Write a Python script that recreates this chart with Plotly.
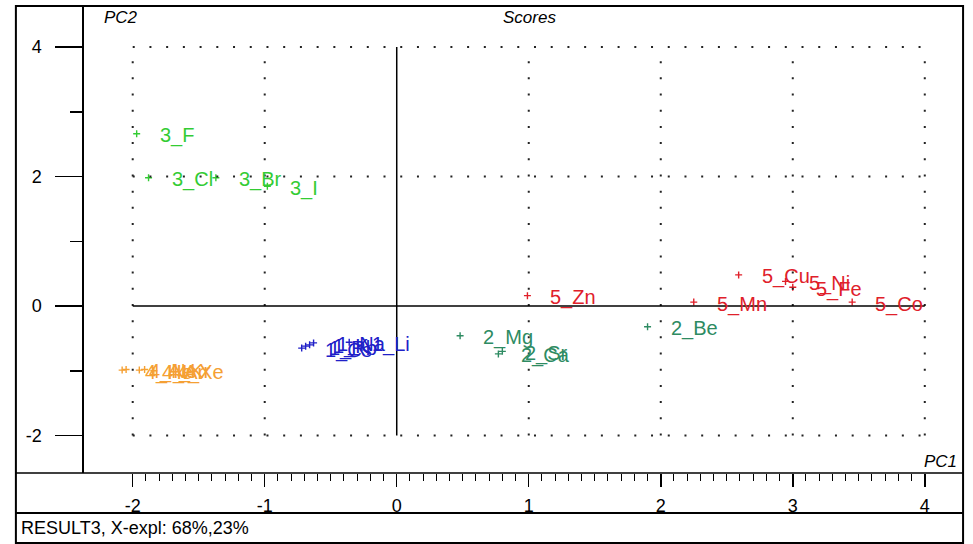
import plotly.graph_objects as go

W, H = 973, 544

# ---------------- data ----------------
alkali_labels = ["1_Cs", "1_Rb", "1_K", "1_Na", "1_Li"]
alkali_pc1 = [-0.72, -0.69, -0.66, -0.63, -0.36]
alkali_pc2 = [-0.65, -0.62, -0.60, -0.57, -0.56]

earth_labels = ["2_Mg", "2_Ca", "2_Sr", "2_Be"]
earth_pc1 = [0.48, 0.77, 0.80, 1.90]
earth_pc2 = [-0.46, -0.74, -0.70, -0.32]

halogen_labels = ["3_F", "3_Cl", "3_Br", "3_I"]
halogen_pc1 = [-1.97, -1.88, -1.37, -0.98]
halogen_pc2 = [2.66, 1.98, 1.98, 1.85]

noble_labels = ["4_He", "4_Ne", "4_Ar", "4_Kr", "4_Xe"]
noble_pc1 = [-2.08, -2.05, -1.95, -1.91, -1.84]
noble_pc2 = [-0.99, -0.98, -0.99, -0.98, -1.00]

trans_labels = ["5_Zn", "5_Mn", "5_Cu", "5_Ni", "5_Fe", "5_Co"]
trans_pc1 = [0.99, 2.25, 2.59, 2.945, 3.00, 3.45]
trans_pc2 = [0.16, 0.06, 0.48, 0.38, 0.29, 0.06]

x_ticks = [-2, -1, 0, 1, 2, 3, 4]
x_tick_labels = ["-2", "-1", "0", "1", "2", "3", "4"]
y_ticks = [-2, 0, 2, 4]
y_tick_labels = ["-2", "0", "2", "4"]

x_grid = [-2, -1, 1, 2, 3, 4]
y_grid = [-2, 2, 4]
x_lim = [-2, 4]
y_lim = [-2, 4]

title_text = "Scores"
xlab, ylab = "PC1", "PC2"
status_text = "RESULT3, X-expl: 68%,23%"

# ---------------- layout geometry (pixels) ----------------
X0PX, XS = 394.0, 133.8     # pixel of PC1=0, pixels per unit
Y0PX, YS = 306.0, 64.75     # pixel of PC2=0, pixels per unit
LEFT, RIGHT, TOP, BOTTOM = 77, 968, 6, 473
PANEL_BOT = 513

def px(v):
    return v / W

def py(v):
    return 1 - v / H

FONT = "Liberation Sans, Arial, sans-serif"

groups = [
    (alkali_labels, alkali_pc1, alkali_pc2, "#2020c8"),
    (earth_labels, earth_pc1, earth_pc2, "#2e8b62"),
    (halogen_labels, halogen_pc1, halogen_pc2, "#33cc33"),
    (noble_labels, noble_pc1, noble_pc2, "#f5a033"),
    (trans_labels, trans_pc1, trans_pc2, "#e0202a"),
]

fig = go.Figure()
annotations = []
for labels, xs, ys, col in groups:
    fig.add_trace(go.Scatter(
        x=xs, y=ys, mode="markers", hoverinfo="skip",
        marker=dict(symbol="cross-thin", size=5, color=col, line=dict(color=col, width=1.4)),
        showlegend=False, cliponaxis=False,
    ))
    for lab, xv, yv in zip(labels, xs, ys):
        annotations.append(dict(
            x=xv, y=yv, xref="x", yref="y", text=lab, showarrow=False,
            xanchor="left", yanchor="middle", xshift=21, yshift=-2,
            font=dict(family=FONT, size=20, color=col),
        ))

# empty trace to materialise the tick axis
fig.add_trace(go.Scatter(x=[], y=[], xaxis="x2", yaxis="y", showlegend=False))

shapes = []
# dotted grid
for gx in x_grid:
    shapes.append(dict(type="line", xref="x", yref="y", x0=gx, x1=gx,
                       y0=y_lim[0], y1=y_lim[1],
                       line=dict(color="#222", width=2, dash="2px,14.19px")))
for gy in y_grid:
    shapes.append(dict(type="line", xref="x", yref="y", x0=x_lim[0], x1=x_lim[1],
                       y0=gy, y1=gy,
                       line=dict(color="#222", width=2, dash="2px,14.72px")))
# solid zero lines
shapes.append(dict(type="line", xref="x", yref="y", x0=0, x1=0, y0=y_lim[0], y1=y_lim[1],
                   line=dict(color="black", width=1.5)))
shapes.append(dict(type="line", xref="x", yref="y", x0=x_lim[0], x1=x_lim[1], y0=0, y1=0,
                   line=dict(color="black", width=1.5)))
# frames
shapes.append(dict(type="rect", xref="paper", yref="paper", x0=px(8), x1=px(968),
                   y0=py(543), y1=py(TOP), line=dict(color="black", width=2)))
shapes.append(dict(type="line", xref="paper", yref="paper", x0=px(8), x1=px(968),
                   y0=py(BOTTOM), y1=py(BOTTOM), line=dict(color="black", width=1.5)))
shapes.append(dict(type="line", xref="paper", yref="paper", x0=px(8), x1=px(968),
                   y0=py(PANEL_BOT), y1=py(PANEL_BOT), line=dict(color="black", width=2)))

# texts
annotations += [
    dict(x=px(95), y=py(18), xref="paper", yref="paper", text=ylab, showarrow=False,
         xanchor="left", yanchor="middle", font=dict(family=FONT, size=17, color="black", style="italic")),
    dict(x=px(529), y=py(18), xref="paper", yref="paper", text=title_text, showarrow=False,
         xanchor="center", yanchor="middle", font=dict(family=FONT, size=17, color="black", style="italic")),
    dict(x=px(964), y=py(461), xref="paper", yref="paper", text=xlab, showarrow=False,
         xanchor="right", yanchor="middle", font=dict(family=FONT, size=17, color="black", style="italic")),
    dict(x=px(11), y=py(528), xref="paper", yref="paper", text=status_text, showarrow=False,
         xanchor="left", yanchor="middle", font=dict(family=FONT, size=18, color="black")),
]

fig.update_layout(
    width=W, height=H,
    margin=dict(l=0, r=0, t=0, b=0),
    paper_bgcolor="white", plot_bgcolor="rgba(0,0,0,0)",
    showlegend=False,
    xaxis=dict(domain=[px(LEFT), px(RIGHT)],
               range=[(LEFT - X0PX) / XS, (RIGHT - X0PX) / XS],
               visible=False, fixedrange=True),
    yaxis=dict(domain=[py(BOTTOM), py(TOP)],
               range=[(Y0PX - BOTTOM) / YS, (Y0PX - TOP) / YS],
               showgrid=False, zeroline=False,
               showline=True, linecolor="black", linewidth=1.5,
               ticks="outside", ticklen=27, tickwidth=1.5, tickcolor="black",
               tickmode="array", tickvals=y_ticks, ticktext=y_tick_labels,
               ticklabelstandoff=10,
               minor=dict(ticks="outside", ticklen=12, tickwidth=1.5, tickcolor="black",
                          tickmode="linear", tick0=0, dtick=1),
               tickfont=dict(family=FONT, size=18, color="black"), fixedrange=True),
    xaxis2=dict(domain=[px(X0PX + x_lim[0] * XS - 0.2), px(X0PX + x_lim[1] * XS + 0.2)],
                range=[x_lim[0] - 0.0015, x_lim[1] + 0.0015],
                anchor="y", side="bottom",
                showgrid=False, zeroline=False, showline=False,
                ticks="outside", ticklen=13, tickwidth=1.5, tickcolor="black",
                tickmode="array", tickvals=x_ticks, ticktext=x_tick_labels,
                ticklabelstandoff=3,
                minor=dict(ticks="outside", ticklen=7, tickwidth=1, tickcolor="black",
                           tickmode="linear", tick0=0, dtick=0.1),
                tickfont=dict(family=FONT, size=18, color="black"), fixedrange=True),
    shapes=shapes,
    annotations=annotations,
)

fig.write_html(
    "out.html",
    config={"displayModeBar": False, "staticPlot": True},
    post_script="document.body.style.margin='0';document.body.style.padding='0';"
                "document.body.style.overflow='hidden';",
)
